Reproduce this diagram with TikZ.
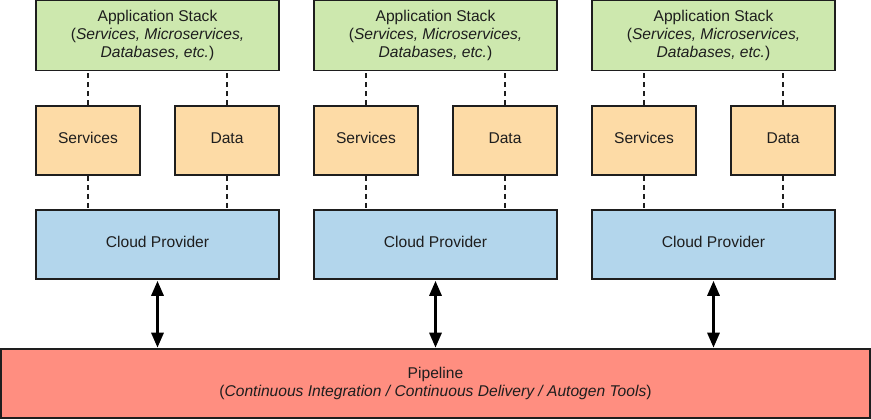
\documentclass[tikz,border=0pt]{standalone}
\usepackage{fontspec}
\setmainfont{Liberation Sans}
\usetikzlibrary{arrows.meta}
\definecolor{appgreen}{HTML}{CDE8AE}
\definecolor{comporange}{HTML}{FDDBA6}
\definecolor{cloudblue}{HTML}{B3D6EC}
\definecolor{pipered}{HTML}{FF8E80}
\definecolor{edge}{HTML}{1E1E1E}
\tikzset{
  box/.style={draw=edge, line width=1.6pt, inner sep=0pt, align=center, text=edge,
    font=\fontsize{15.6}{18}\selectfont},
  appbox/.style={box, fill=appgreen, minimum width=243pt, minimum height=70pt},
  compbox/.style={box, fill=comporange, minimum width=104pt, minimum height=69pt, text height=11pt, text depth=5pt},
  cloudbox/.style={box, fill=cloudblue, minimum width=243pt, minimum height=69pt, text height=11pt, text depth=5pt},
  pipebox/.style={box, fill=pipered, minimum width=869pt, minimum height=69pt},
  dashlink/.style={draw=edge, line width=1.5pt, dash pattern=on 5pt off 4pt},
  biarrow/.style={draw=black, line width=3pt, {Triangle[width=12pt,length=15pt]}-{Triangle[width=12pt,length=15pt]}, shorten <=1pt, shorten >=0.5pt}
}
\begin{document}
\begin{tikzpicture}[x=1pt,y=-1pt]
\useasboundingbox (0,0) rectangle (871,420);
\node[pipebox] (pipe) at (435.5,383.5) {Pipeline\\(\textit{Continuous Integration / Continuous Delivery / Autogen Tools})};
\foreach \i/\dx in {1/0,2/278,3/556}{
  \node[appbox] (app\i) at (157.5+\dx,35.5) {Application Stack\\(\textit{Services, Microservices,}\\\textit{Databases, etc.})};
  \node[compbox] (srv\i) at (88+\dx,140.5) {Services};
  \node[compbox] (dat\i) at (227+\dx,140.5) {Data};
  \node[cloudbox] (cloud\i) at (157.5+\dx,244.5) {Cloud Provider};
  \draw[dashlink] (srv\i.north) -- (srv\i.north |- app\i.south);
  \draw[dashlink] (dat\i.north) -- (dat\i.north |- app\i.south);
  \draw[dashlink] (srv\i.south) -- (srv\i.south |- cloud\i.north);
  \draw[dashlink] (dat\i.south) -- (dat\i.south |- cloud\i.north);
  \draw[biarrow] (cloud\i.south) -- (cloud\i.south |- pipe.north);
}
\end{tikzpicture}
\end{document}
